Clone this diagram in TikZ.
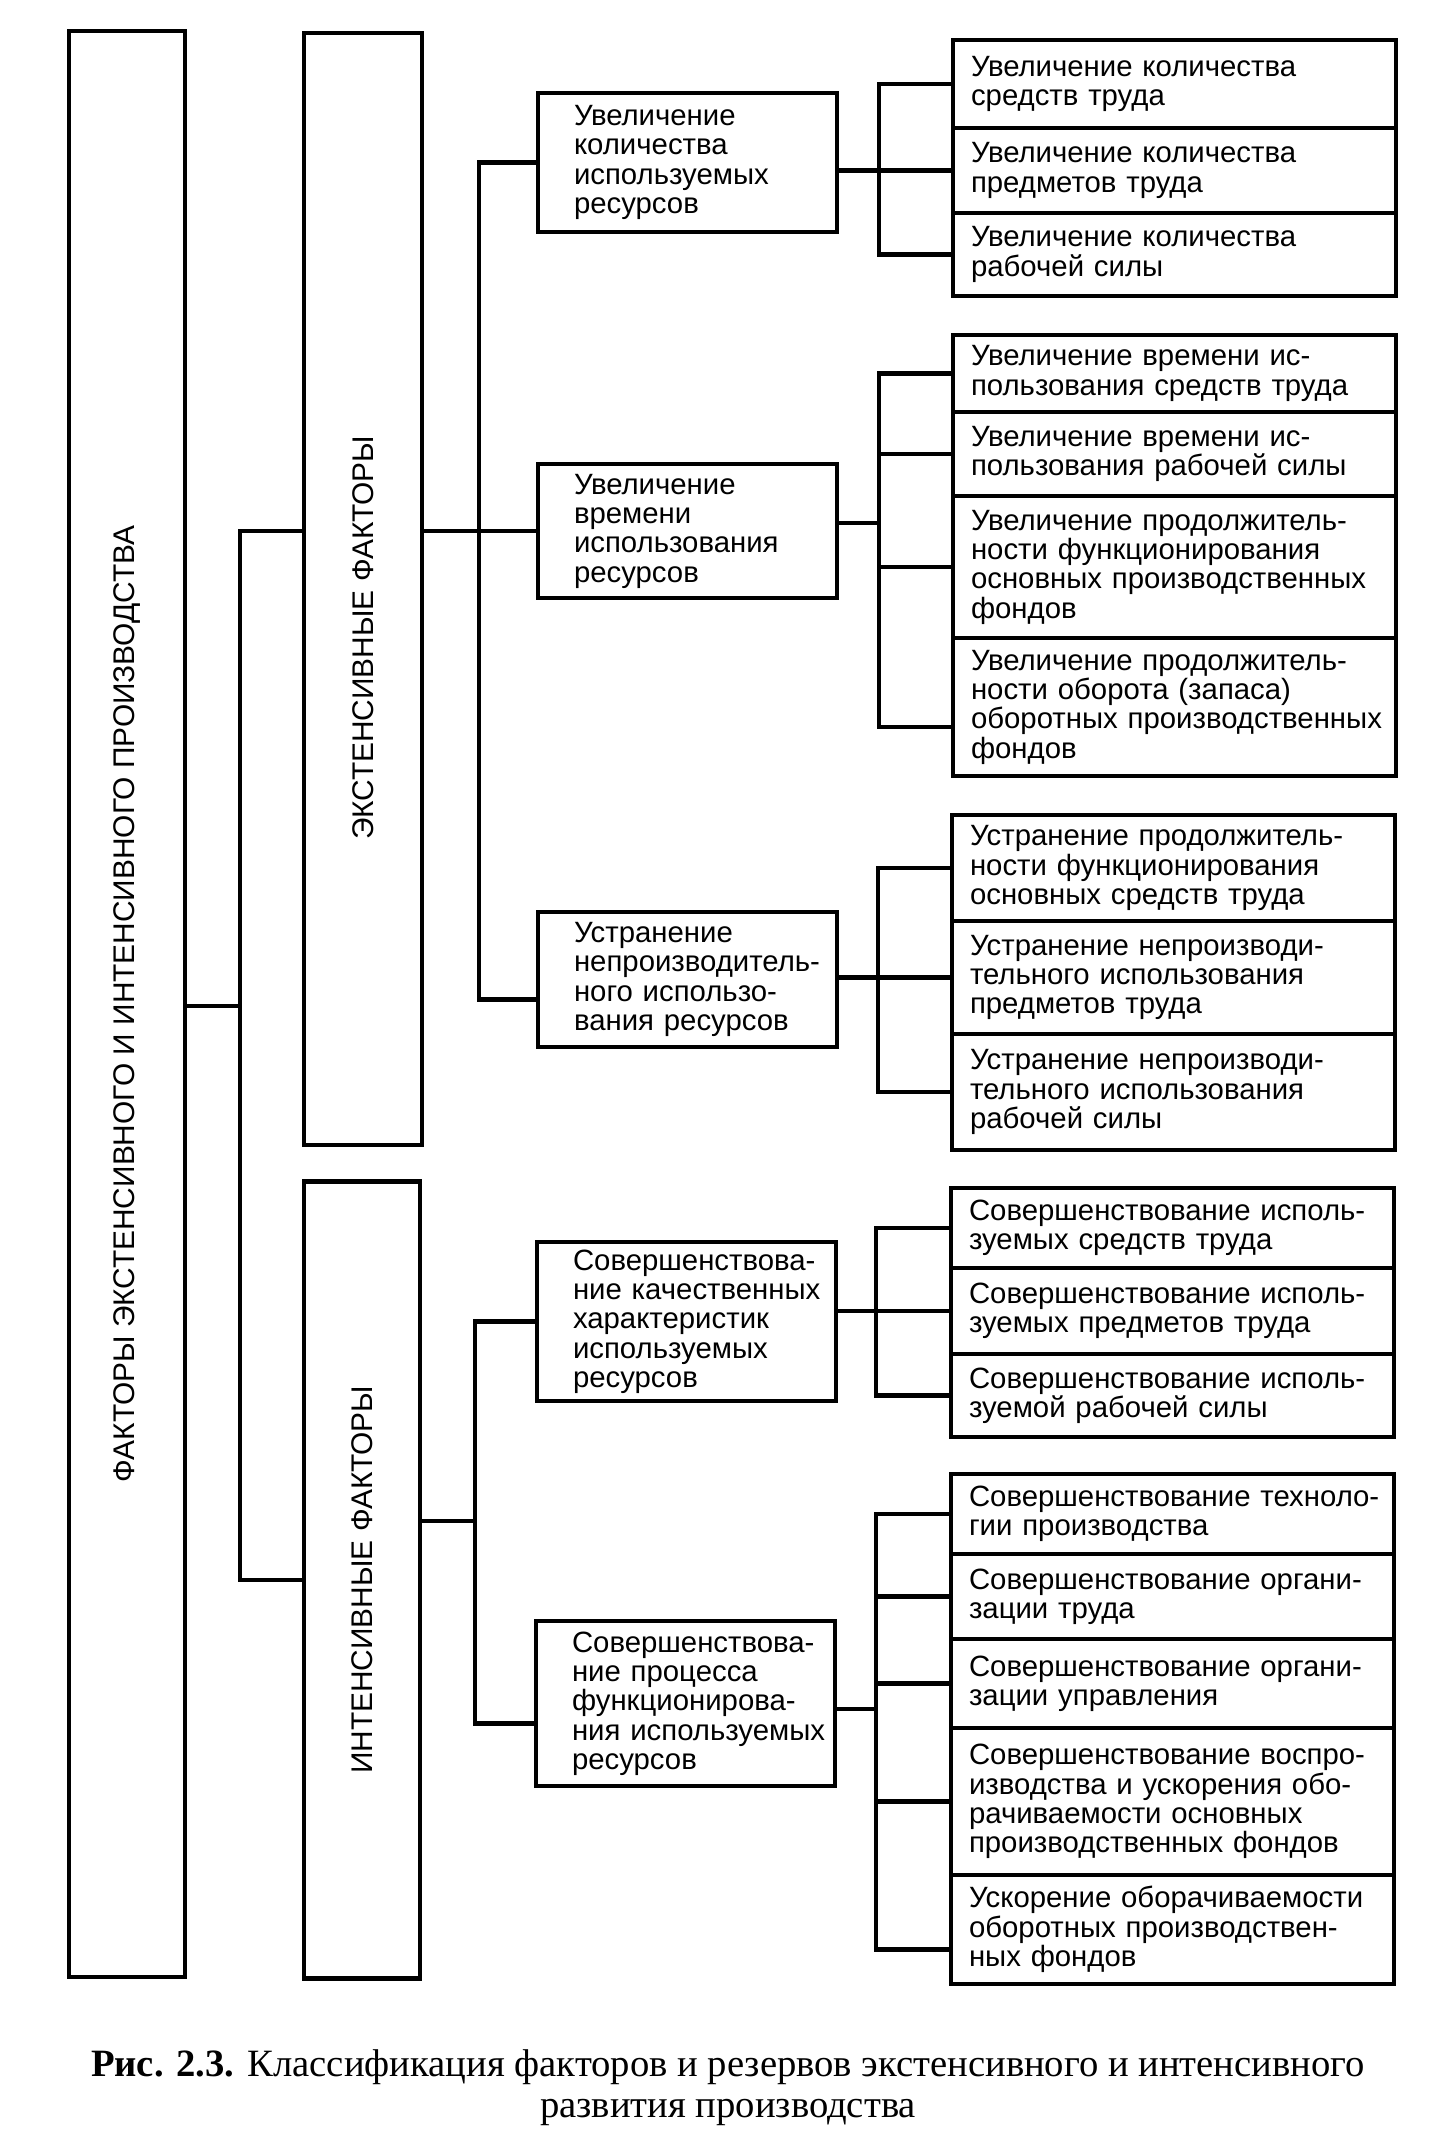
\documentclass[tikz,border=0pt]{standalone}
\usepackage{fontspec}
\setmainfont{Liberation Serif}
\setsansfont{Liberation Sans}
\usepackage{tikz}
\usetikzlibrary{positioning}
\definecolor{SchemeInk}{HTML}{000000}

\begin{document}
\begin{tikzpicture}[
  node distance=0pt,
  factorbox/.style={
    draw=SchemeInk,
    line width=1.2pt,
    rotate=90,
    inner sep=0pt,
    outer sep=0pt,
    font=\sffamily\fontsize{8.5}{9}\selectfont
  },
  groupbox/.style={
    draw=SchemeInk,
    line width=1.2pt,
    anchor=north west,
    inner xsep=0pt,
    inner ysep=0.05cm,
    outer sep=0pt,
    text width=2.99cm,
    align=left,
    execute at begin node={\leftskip=0.36cm},
    font=\sffamily\fontsize{8.35}{8.35}\selectfont
  },
  itembox/.style={groupbox, text width=4.43cm, execute at begin node={\leftskip=0.18cm}},
  linkline/.style={line width=1.2pt, draw=SchemeInk}
]
\useasboundingbox (0,0) rectangle (14.55,-21.46);
% factor columns
\node[factorbox, minimum width=19.46cm, minimum height=1.16cm] (main) at (1.27,-10.04) {ФАКТОРЫ ЭКСТЕНСИВНОГО И ИНТЕНСИВНОГО ПРОИЗВОДСТВА};
\node[factorbox, minimum width=11.12cm, minimum height=1.18cm] (ext) at (3.63,-5.89) {ЭКСТЕНСИВНЫЕ ФАКТОРЫ\hspace*{0.98cm}};
\node[factorbox, minimum width=7.97cm, minimum height=1.16cm] (int) at (3.62,-15.80) {ИНТЕНСИВНЫЕ ФАКТОРЫ};
% groups
\node[groupbox, minimum height=1.39cm] (qty) at (5.38,-0.93) {Увеличение\\количества\\используемых\\ресурсов};
\node[groupbox, minimum height=1.34cm] (time) at (5.38,-4.64) {Увеличение\\времени\\использования\\ресурсов};
\node[groupbox, minimum height=1.35cm] (loss) at (5.38,-9.12) {Устранение\\непроизводитель-\\ного использо-\\вания ресурсов};
\node[groupbox, minimum height=1.59cm] (qual) at (5.37,-12.42) {Совершенствова-\\ние качественных\\характеристик\\используемых\\ресурсов};
\node[groupbox, minimum height=1.65cm] (proc) at (5.36,-16.21) {Совершенствова-\\ние процесса\\функционирова-\\ния используемых\\ресурсов};
% items
\node[itembox, minimum height=0.88cm] (qtyA) at (9.53,-0.40) {Увеличение количества\\средств труда};
\node[itembox, minimum height=0.85cm, below=of qtyA] (qtyB) {Увеличение количества\\предметов труда};
\node[itembox, minimum height=0.83cm, below=of qtyB] (qtyC) {Увеличение количества\\рабочей силы};
\node[itembox, minimum height=0.77cm] (timeA) at (9.53,-3.35) {Увеличение времени ис-\\пользования средств труда};
\node[itembox, minimum height=0.84cm, below=of timeA] (timeB) {Увеличение времени ис-\\пользования рабочей силы};
\node[itembox, minimum height=1.42cm, below=of timeB] (timeC) {Увеличение продолжитель-\\ности функционирования\\основных производственных\\фондов};
\node[itembox, minimum height=1.38cm, below=of timeC] (timeD) {Увеличение продолжитель-\\ности оборота (запаса)\\оборотных производственных\\фондов};
\node[itembox, minimum height=1.06cm] (lossA) at (9.52,-8.15) {Устранение продолжитель-\\ности функционирования\\основных средств труда};
\node[itembox, minimum height=1.13cm, below=of lossA] (lossB) {Устранение непроизводи-\\тельного использования\\предметов труда};
\node[itembox, minimum height=1.16cm, below=of lossB] (lossC) {Устранение непроизводи-\\тельного использования\\рабочей силы};
\node[itembox, minimum height=0.80cm] (qualA) at (9.51,-11.88) {Совершенствование исполь-\\зуемых средств труда};
\node[itembox, minimum height=0.86cm, below=of qualA] (qualB) {Совершенствование исполь-\\зуемых предметов труда};
\node[itembox, minimum height=0.83cm, below=of qualB] (qualC) {Совершенствование исполь-\\зуемой рабочей силы};
\node[itembox, minimum height=0.80cm] (procA) at (9.51,-14.74) {Совершенствование техноло-\\гии производства};
\node[itembox, minimum height=0.85cm, below=of procA] (procB) {Совершенствование органи-\\зации труда};
\node[itembox, minimum height=0.89cm, below=of procB] (procC) {Совершенствование органи-\\зации управления};
\node[itembox, minimum height=1.47cm, below=of procC] (procD) {Совершенствование воспро-\\изводства и ускорения обо-\\рачиваемости основных\\производственных фондов};
\node[itembox, minimum height=1.09cm, below=of procD] (procE) {Ускорение оборачиваемости\\оборотных производствен-\\ных фондов};
% caption
\node[font=\rmfamily\fontsize{11}{11.6}\selectfont, align=center] (caption) at (7.28,-20.88) {\textbf{Рис. 2.3.} Классификация факторов и резервов экстенсивного и интенсивного\\развития производства};
% junctions
\coordinate (bj) at (2.40,-10.06);
\path (time.west) ++(-0.59,0) coordinate (ej);
\coordinate (ij) at (4.75,-15.21);
\path (qtyB.west) ++(-0.74,0) coordinate (qj);
\coordinate (tj) at (8.79,-5.23);
\path (lossB.west) ++(-0.74,0) coordinate (lj);
\path (qualB.west) ++(-0.75,0) coordinate (cj);
\coordinate (pj) at (8.76,-17.09);
% connectors
\draw[linkline] (main.south |- bj) -- (bj);
\draw[linkline] (ext.north |- ej) -| (bj) |- (int.north);
\draw[linkline] (ext.south |- ej) -- (ej);
\draw[linkline] (int.south |- ij) -- (ij);
\draw[linkline] (qty.west) -| (ej) |- ([yshift=-2mm]loss.west);
\draw[linkline] (ej) -- (time.west);
\draw[linkline] (qual.west) -| (ij) |- ([yshift=-2mm]proc.west);
\draw[linkline] (qtyA.west) -| (qj) |- (qtyC.west);
\draw[linkline] (qty.east |- qj) -- (qtyB.west);
\draw[linkline] (timeA.west) -| (tj) |- ([yshift=-2mm]timeD.west);
\draw[linkline] (time.east |- tj) -- (tj);
\foreach \r in {timeB,timeC} \draw[linkline] (\r.west) -- (\r.west -| tj);
\draw[linkline] (lossA.west) -| (lj) |- (lossC.west);
\draw[linkline] (loss.east |- lj) -- (lossB.west);
\draw[linkline] (qualA.west) -| (cj) |- (qualC.west);
\draw[linkline] (qual.east |- cj) -- (qualB.west);
\draw[linkline] (procA.west) -| (pj) |- ([yshift=-2mm]procE.west);
\draw[linkline] (proc.east |- pj) -- (pj);
\foreach \r in {procB,procC,procD} \draw[linkline] (\r.west) -- (\r.west -| pj);
\end{tikzpicture}
\end{document}
